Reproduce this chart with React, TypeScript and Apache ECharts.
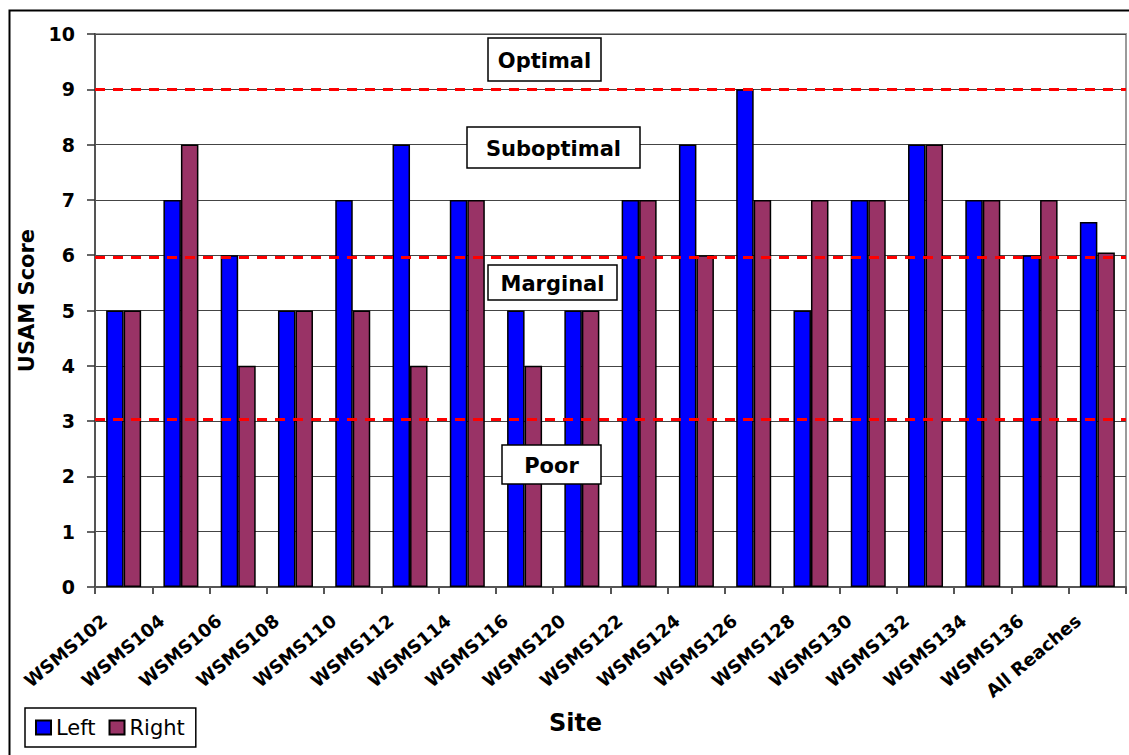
import React, { useEffect, useRef } from "react";
import * as echarts from "echarts";

const categories = [
  "WSMS102", "WSMS104", "WSMS106", "WSMS108", "WSMS110", "WSMS112",
  "WSMS114", "WSMS116", "WSMS120", "WSMS122", "WSMS124", "WSMS126",
  "WSMS128", "WSMS130", "WSMS132", "WSMS134", "WSMS136", "All Reaches",
];
const leftValues = [5, 7, 6, 5, 7, 8, 7, 5, 5, 7, 8, 9, 5, 7, 8, 7, 6, 6.6];
const rightValues = [5, 8, 4, 5, 5, 4, 7, 4, 5, 7, 6, 7, 7, 7, 8, 7, 7, 6.05];
const thresholds = [9, 5.97, 3.03];
const conditionLabels = ["Optimal", "Suboptimal", "Marginal", "Poor"];

const FONT = "DejaVu Sans";

const boxes = [
  { x: 488, y: 38, w: 113, h: 43 },
  { x: 467, y: 127, w: 173, h: 41 },
  { x: 488, y: 265, w: 129, h: 35 },
  { x: 502, y: 445, w: 99, h: 39 },
];

export default function App() {
  const ref = useRef<HTMLDivElement>(null);
  useEffect(() => {
    if (!ref.current) return;
    const chart = echarts.init(ref.current, null, { renderer: "svg" });
    const graphics: any[] = [
      {
        type: "rect",
        left: 7,
        top: 8,
        shape: { x: 0, y: 0, width: 1140, height: 760 },
        style: { fill: "none", stroke: "#000", lineWidth: 2 },
        z: -10,
        silent: true,
      },
    ];
    conditionLabels.forEach((lab, i) => {
      const b = boxes[i];
      graphics.push({
        type: "rect",
        z: 100,
        shape: { x: b.x, y: b.y, width: b.w, height: b.h },
        style: { fill: "#fff", stroke: "#000", lineWidth: 1.5 },
        silent: true,
      });
      graphics.push({
        type: "text",
        z: 101,
        x: b.x + b.w / 2,
        y: b.y + b.h / 2 + 1,
        style: {
          text: lab,
          fill: "#000",
          font: `bold 21px "${FONT}"`,
          textAlign: "center",
          textVerticalAlign: "middle",
        },
        silent: true,
      });
    });

    chart.setOption({
      animation: false,
      backgroundColor: "#fff",
      grid: {
        left: 95,
        top: 34,
        right: 3,
        bottom: 168,
        show: true,
        borderColor: "#9a9a9a",
        borderWidth: 2,
        backgroundColor: "transparent",
      },
      legend: {
        data: ["Left", "Right"],
        left: 25,
        top: 708,
        orient: "horizontal",
        icon: "rect",
        itemWidth: 15,
        itemHeight: 14,
        itemGap: 13,
        padding: [9, 11, 9, 10],
        borderColor: "#000",
        borderWidth: 1.5,
        textStyle: { fontFamily: FONT, fontSize: 21, color: "#000" },
      },
      xAxis: {
        type: "category",
        data: categories,
        name: "Site",
        nameLocation: "middle",
        nameGap: 124,
        nameTextStyle: {
          fontFamily: FONT,
          fontWeight: "bold",
          fontSize: 24,
          color: "#000",
          padding: [0, 70, 0, 0],
        },
        axisLine: { lineStyle: { color: "#555", width: 2 } },
        axisTick: { show: true, length: 7, lineStyle: { color: "#555", width: 2 } },
        axisLabel: {
          rotate: 40,
          interval: 0,
          margin: 15,
          padding: [0, 25, 0, 0],
          fontFamily: FONT,
          fontWeight: "bold",
          fontSize: 18,
          color: "#000",
        },
      },
      yAxis: {
        type: "value",
        min: 0,
        max: 10,
        interval: 1,
        name: "USAM Score",
        nameLocation: "middle",
        nameGap: 57,
        nameRotate: 90,
        nameTextStyle: {
          fontFamily: FONT,
          fontWeight: "bold",
          fontSize: 21,
          color: "#000",
          padding: [0, 0, 0, 20],
        },
        axisLine: { show: true, lineStyle: { color: "#555", width: 2 } },
        axisTick: { show: true, length: 8, lineStyle: { color: "#333", width: 1.5 } },
        axisLabel: {
          margin: 20,
          fontFamily: FONT,
          fontWeight: "bold",
          fontSize: 19,
          color: "#000",
        },
        splitLine: { show: true, lineStyle: { color: "#444", width: 1 } },
      },
      series: [
        {
          name: "Left",
          type: "bar",
          data: leftValues,
          barWidth: 17.5,
          barGap: "0%",
          z: 2,
          itemStyle: { color: "#0000FF", borderColor: "#000", borderWidth: 1.5 },
          markLine: {
            silent: true,
            symbol: "none",
            label: { show: false },
            lineStyle: { color: "#FF0000", width: 3, type: [10, 8] },
            data: thresholds.map((v) => ({ yAxis: v })),
            z: 10,
          },
        },
        {
          name: "Right",
          type: "bar",
          data: rightValues,
          barWidth: 17.5,
          barGap: "0%",
          z: 2,
          itemStyle: { color: "#993366", borderColor: "#000", borderWidth: 1.5 },
        },
      ],
      graphic: graphics,
    });
    return () => chart.dispose();
  }, []);
  return (
    <div
      ref={ref}
      style={{ position: "fixed", left: 0, top: 0, width: 1129, height: 755, background: "#fff" }}
    />
  );
}
